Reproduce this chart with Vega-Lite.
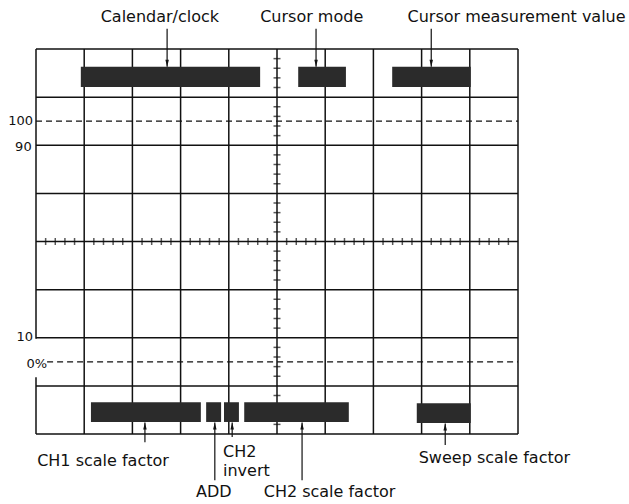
{
  "$schema": "https://vega.github.io/schema/vega-lite/v6.json",
  "width": 482,
  "height": 385,
  "autosize": "none",
  "padding": {"left": 36, "top": 49, "right": 111, "bottom": 70},
  "background": "white",
  "config": {"view": {"stroke": null}, "axis": {"disable": true}},
  "datasets": {
    "vlines": [
      {"x": 0, "y1": 0, "y2": 1.18}, {"x": 0, "y1": 1.98, "y2": 8},
      {"x": 1, "y1": 0, "y2": 8}, {"x": 2, "y1": 0, "y2": 8}, {"x": 3, "y1": 0, "y2": 8},
      {"x": 4, "y1": 0, "y2": 8}, {"x": 5, "y1": 0, "y2": 8}, {"x": 6, "y1": 0, "y2": 8},
      {"x": 7, "y1": 0, "y2": 8}, {"x": 8, "y1": 0, "y2": 8}, {"x": 9, "y1": 0, "y2": 8},
      {"x": 10, "y1": 0, "y2": 8}
    ],
    "hlines": [
      {"y": 0}, {"y": 1}, {"y": 2}, {"y": 3}, {"y": 4}, {"y": 5}, {"y": 6}, {"y": 7}, {"y": 8}
    ],
    "dashed": [
      {"y": 6.5, "x1": 0, "x2": 10},
      {"y": 1.5, "x1": 0.23, "x2": 10}
    ],
    "hticks": [
      {"x": 0.2}, {"x": 0.4}, {"x": 0.6}, {"x": 0.8}, {"x": 1.2}, {"x": 1.4}, {"x": 1.6}, {"x": 1.8},
      {"x": 2.2}, {"x": 2.4}, {"x": 2.6}, {"x": 2.8}, {"x": 3.2}, {"x": 3.4}, {"x": 3.6}, {"x": 3.8},
      {"x": 4.2}, {"x": 4.4}, {"x": 4.6}, {"x": 4.8}, {"x": 5.2}, {"x": 5.4}, {"x": 5.6}, {"x": 5.8},
      {"x": 6.2}, {"x": 6.4}, {"x": 6.6}, {"x": 6.8}, {"x": 7.2}, {"x": 7.4}, {"x": 7.6}, {"x": 7.8},
      {"x": 8.2}, {"x": 8.4}, {"x": 8.6}, {"x": 8.8}, {"x": 9.2}, {"x": 9.4}, {"x": 9.6}, {"x": 9.8}
    ],
    "vticks": [
      {"y": 0.2}, {"y": 0.4}, {"y": 0.6}, {"y": 0.8}, {"y": 1.2}, {"y": 1.4}, {"y": 1.6}, {"y": 1.8},
      {"y": 2.2}, {"y": 2.4}, {"y": 2.6}, {"y": 2.8}, {"y": 3.2}, {"y": 3.4}, {"y": 3.6}, {"y": 3.8},
      {"y": 4.2}, {"y": 4.4}, {"y": 4.6}, {"y": 4.8}, {"y": 5.2}, {"y": 5.4}, {"y": 5.6}, {"y": 5.8},
      {"y": 6.2}, {"y": 6.4}, {"y": 6.6}, {"y": 6.8}, {"y": 7.2}, {"y": 7.4}, {"y": 7.6}, {"y": 7.8}
    ],
    "bars": [
      {"name": "Calendar/clock", "x1": 0.93, "x2": 4.65, "y1": 7.21, "y2": 7.63},
      {"name": "Cursor mode", "x1": 5.44, "x2": 6.43, "y1": 7.21, "y2": 7.63},
      {"name": "Cursor measurement value", "x1": 7.39, "x2": 9.02, "y1": 7.21, "y2": 7.63},
      {"name": "CH1 scale factor", "x1": 1.14, "x2": 3.42, "y1": 0.25, "y2": 0.66},
      {"name": "ADD", "x1": 3.53, "x2": 3.84, "y1": 0.25, "y2": 0.66},
      {"name": "CH2 invert", "x1": 3.9, "x2": 4.21, "y1": 0.25, "y2": 0.66},
      {"name": "CH2 scale factor", "x1": 4.32, "x2": 6.49, "y1": 0.25, "y2": 0.66},
      {"name": "Sweep scale factor", "x1": 7.9, "x2": 9.02, "y1": 0.23, "y2": 0.64}
    ],
    "arrowsDown": [
      {"x": 2.72, "tail": 8.42, "tip": 7.63},
      {"x": 5.81, "tail": 8.42, "tip": 7.63},
      {"x": 8.2, "tail": 8.42, "tip": 7.63}
    ],
    "arrowsUp": [
      {"x": 2.26, "tail": -0.17, "tip": 0.24},
      {"x": 3.71, "tail": -0.96, "tip": 0.24},
      {"x": 4.07, "tail": -0.06, "tip": 0.24},
      {"x": 5.52, "tail": -0.96, "tip": 0.24},
      {"x": 8.49, "tail": -0.23, "tip": 0.22}
    ],
    "labels": [
      {"text": "Calendar/clock", "x": 2.57, "y": 8.57},
      {"text": "Cursor mode", "x": 5.72, "y": 8.57},
      {"text": "Cursor measurement value", "x": 9.97, "y": 8.57},
      {"text": "CH1 scale factor", "x": 1.39, "y": -0.66},
      {"text": "ADD", "x": 3.69, "y": -1.31},
      {"text": "CH2 scale factor", "x": 6.09, "y": -1.31},
      {"text": "Sweep scale factor", "x": 9.51, "y": -0.6}
    ],
    "leftLabels": [
      {"text": "CH2", "x": 3.88, "y": -0.48},
      {"text": "invert", "x": 3.88, "y": -0.87}
    ],
    "scaleLabels": [
      {"text": "100", "x": -0.06, "y": 6.42},
      {"text": "90", "x": -0.09, "y": 5.89},
      {"text": "10", "x": -0.06, "y": 1.94},
      {"text": "0%", "x": 0.23, "y": 1.37}
    ]
  },
  "layer": [
    {
      "data": {"name": "vlines"},
      "mark": {"type": "rule", "color": "#111", "strokeWidth": 1.5},
      "encoding": {
        "x": {"field": "x", "type": "quantitative", "scale": {"domain": [0, 10], "nice": false, "zero": false}, "axis": null},
        "y": {"field": "y1", "type": "quantitative", "scale": {"domain": [0, 8], "nice": false, "zero": false}, "axis": null},
        "y2": {"field": "y2"}
      }
    },
    {
      "data": {"name": "hlines"},
      "mark": {"type": "rule", "color": "#111", "strokeWidth": 1.5},
      "encoding": {
        "y": {"field": "y", "type": "quantitative"},
        "x": {"datum": 0, "type": "quantitative"},
        "x2": {"datum": 10}
      }
    },
    {
      "data": {"name": "dashed"},
      "mark": {"type": "rule", "color": "#111", "strokeWidth": 1.3, "strokeDash": [6, 4]},
      "encoding": {
        "y": {"field": "y", "type": "quantitative"},
        "x": {"field": "x1", "type": "quantitative"},
        "x2": {"field": "x2"}
      }
    },
    {
      "data": {"name": "hticks"},
      "mark": {"type": "tick", "orient": "vertical", "color": "#111", "size": 7, "thickness": 1.5},
      "encoding": {
        "x": {"field": "x", "type": "quantitative"},
        "y": {"datum": 4, "type": "quantitative"}
      }
    },
    {
      "data": {"name": "vticks"},
      "mark": {"type": "tick", "orient": "horizontal", "color": "#111", "size": 7, "thickness": 1.5},
      "encoding": {
        "y": {"field": "y", "type": "quantitative"},
        "x": {"datum": 5, "type": "quantitative"}
      }
    },
    {
      "data": {"name": "bars"},
      "mark": {"type": "rect", "color": "#2b2b2b"},
      "encoding": {
        "x": {"field": "x1", "type": "quantitative"},
        "x2": {"field": "x2"},
        "y": {"field": "y1", "type": "quantitative"},
        "y2": {"field": "y2"}
      }
    },
    {
      "data": {"name": "arrowsDown"},
      "mark": {"type": "rule", "color": "#111", "strokeWidth": 1.2},
      "encoding": {
        "x": {"field": "x", "type": "quantitative"},
        "y": {"field": "tail", "type": "quantitative"},
        "y2": {"field": "tip"}
      }
    },
    {
      "data": {"name": "arrowsDown"},
      "mark": {"type": "point", "shape": "M-0.5,-1L0.5,-1L0,1Z", "filled": true, "color": "#111", "opacity": 1, "size": 49, "yOffset": -3.5},
      "encoding": {
        "x": {"field": "x", "type": "quantitative"},
        "y": {"field": "tip", "type": "quantitative"}
      }
    },
    {
      "data": {"name": "arrowsUp"},
      "mark": {"type": "rule", "color": "#111", "strokeWidth": 1.2},
      "encoding": {
        "x": {"field": "x", "type": "quantitative"},
        "y": {"field": "tail", "type": "quantitative"},
        "y2": {"field": "tip"}
      }
    },
    {
      "data": {"name": "arrowsUp"},
      "mark": {"type": "point", "shape": "M-0.5,1L0.5,1L0,-1Z", "filled": true, "color": "#111", "opacity": 1, "size": 49, "yOffset": 3.5},
      "encoding": {
        "x": {"field": "x", "type": "quantitative"},
        "y": {"field": "tip", "type": "quantitative"}
      }
    },
    {
      "data": {"name": "labels"},
      "mark": {"type": "text", "font": "DejaVu Sans", "fontSize": 16, "color": "#111", "align": "center", "baseline": "alphabetic"},
      "encoding": {
        "x": {"field": "x", "type": "quantitative"},
        "y": {"field": "y", "type": "quantitative"},
        "text": {"field": "text"}
      }
    },
    {
      "data": {"name": "leftLabels"},
      "mark": {"type": "text", "font": "DejaVu Sans", "fontSize": 16, "color": "#111", "align": "left", "baseline": "alphabetic"},
      "encoding": {
        "x": {"field": "x", "type": "quantitative"},
        "y": {"field": "y", "type": "quantitative"},
        "text": {"field": "text"}
      }
    },
    {
      "data": {"name": "scaleLabels"},
      "mark": {"type": "text", "font": "DejaVu Sans", "fontSize": 13, "fontWeight": 500, "color": "#111", "align": "right", "baseline": "alphabetic"},
      "encoding": {
        "x": {"field": "x", "type": "quantitative"},
        "y": {"field": "y", "type": "quantitative"},
        "text": {"field": "text"}
      }
    }
  ]
}
